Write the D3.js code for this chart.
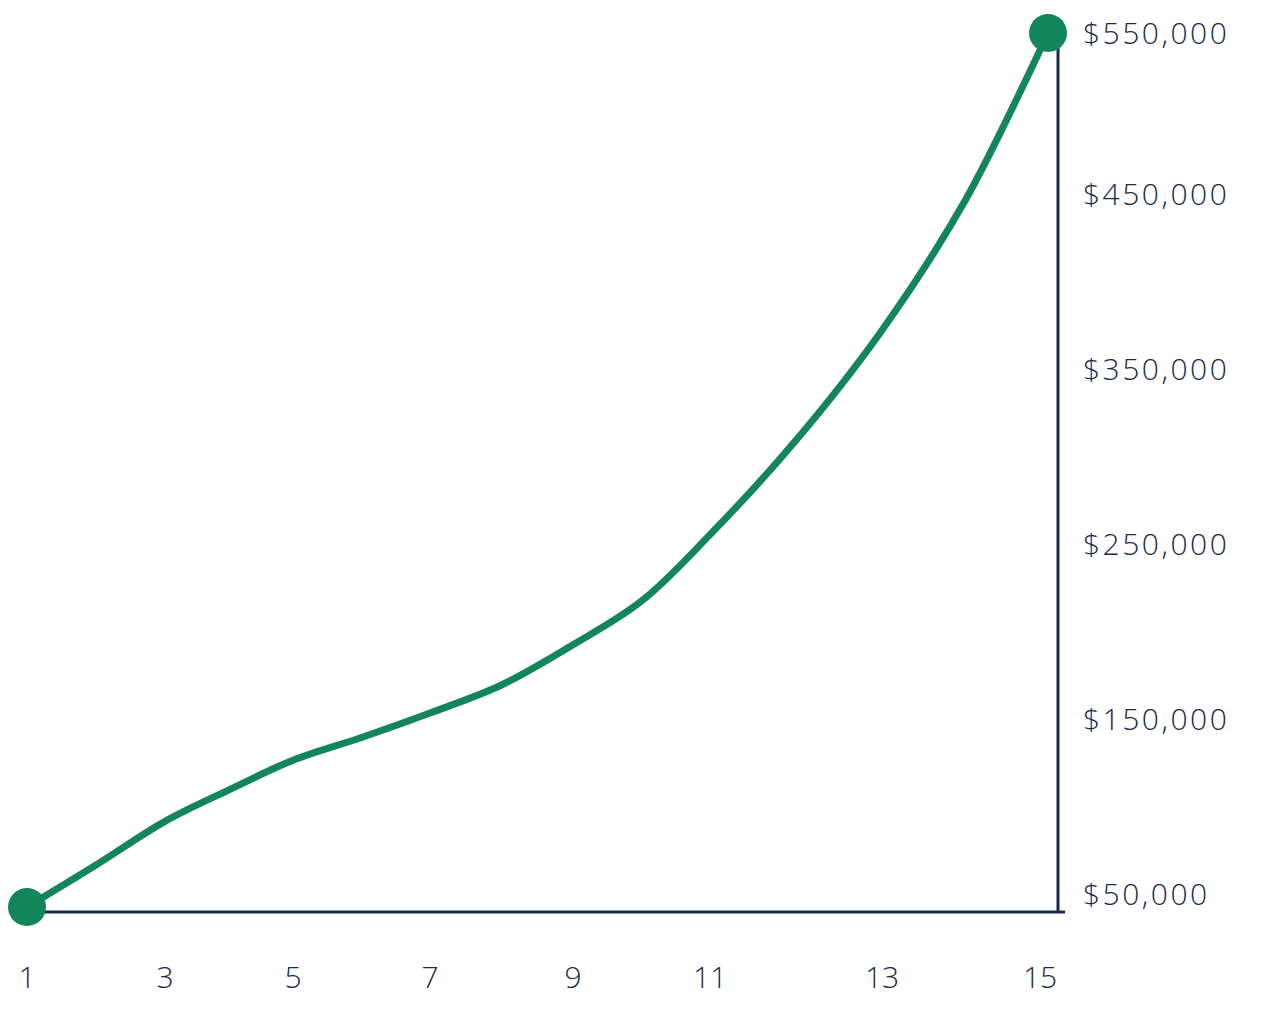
<!DOCTYPE html>
<html><head><meta charset="utf-8">
<script src="https://cdn.jsdelivr.net/npm/d3@7"></script>
<style>body{margin:0;background:#fff}</style>
</head><body><div id="chart"></div>
<script>
var w = 1269, h = 1014;
var years = [1,2,3,4,5,6,7,8,9,10,11,12,13,14,15];
var values = [50000,74000,99000,117000,134000,147000,161000,177000,200000,225000,263000,317000,380000,454000,550000];
var xTicks = [1,3,5,7,9,11,13,15];
var xTickPos = [27,165,293,430,573,710,882,1048];
var yTicks = [50000,150000,250000,350000,450000,550000];

var ink = "#1b2a4a", green = "#13855b";

var svg = d3.select("#chart").append("svg").attr("width", w).attr("height", h);

var x = d3.scaleLinear().domain(xTicks).range(xTickPos);
var y = d3.scaleLinear().domain([50000,550000]).range([907,33]);

// axes lines
svg.append("line").attr("x1",27).attr("x2",1065).attr("y1",912).attr("y2",912)
  .attr("stroke",ink).attr("stroke-width",3);
svg.append("line").attr("x1",1058).attr("x2",1058).attr("y1",40).attr("y2",912)
  .attr("stroke",ink).attr("stroke-width",3);

// tick labels
svg.selectAll(".xt").data(xTicks).enter().append("text")
  .attr("x", function(d){ return d === 15 ? x(d) - 8 : x(d); }).attr("y", 988)
  .attr("text-anchor","middle").attr("fill",ink)
  .style("font-family","'Open Sans', sans-serif").style("font-weight","300").style("font-size","30px")
  .text(function(d){ return d; });

svg.selectAll(".yt").data(yTicks).enter().append("text")
  .attr("x", 1083).attr("y", function(d){ return Math.max(33, y(d) - 13); })
  .attr("dy","0.35em").attr("fill",ink)
  .style("font-family","'Open Sans', sans-serif").style("font-weight","300")
  .style("font-size","30px").style("letter-spacing","2.5px")
  .text(function(d){ return "$" + d3.format(",")(d); });

// line
var data = years.map(function(d,i){ return [d, values[i]]; });
var line = d3.line().x(function(d){ return x(d[0]); }).y(function(d){ return y(d[1]); })
  .curve(d3.curveCatmullRom);
svg.append("path").datum(data).attr("d", line)
  .attr("fill","none").attr("stroke",green).attr("stroke-width",7);

// end dots
svg.selectAll(".dot").data([data[0], data[data.length-1]]).enter().append("circle")
  .attr("cx", function(d){ return x(d[0]); }).attr("cy", function(d){ return y(d[1]); })
  .attr("r", 19).attr("fill", green);
</script></body></html>
